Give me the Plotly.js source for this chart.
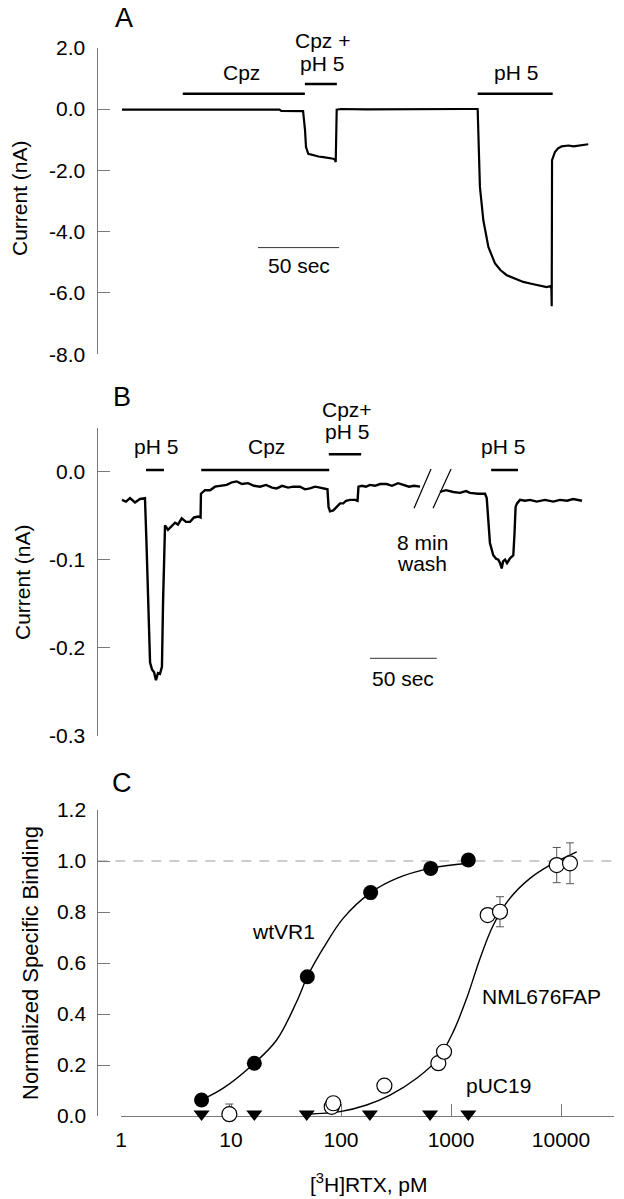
<!DOCTYPE html>
<html><head><meta charset="utf-8">
<script src="https://cdn.plot.ly/plotly-3.0.1.min.js"></script>
<style>html,body{margin:0;padding:0;background:#fff}</style>
</head><body><div id="chart" style="width:624px;height:1199px"></div>
<script>
// ---------- Panel A : whole-cell current trace (time in s, current in nA)
const timeA = [0, 10, 20, 30, 40, 50, 60, 70, 80, 90, 97, 98, 105, 111.5, 112.7, 113.3, 114.7, 117.8, 121, 124, 127, 130.1, 131.2, 131.6, 132.2, 135, 150, 170, 190, 210, 219.0, 219.6, 220.4, 222.5, 225.6, 229.7, 233, 236.9, 242, 247.1, 252, 257, 261.5, 263.5, 264.4, 264.6, 264.8, 266.6, 268.5, 270.7, 275, 278, 282, 284.5, 287.1];
const currentA = [-0.02, -0.02, -0.01, -0.02, -0.01, -0.01, -0.02, -0.01, -0.01, -0.02, -0.02, -0.06, -0.06, -0.07, -0.69, -1.24, -1.46, -1.51, -1.55, -1.57, -1.60, -1.62, -1.66, -1.73, -0.02, 0.0, -0.01, 0.0, -0.01, 0.0, 0.0, -1.4, -2.54, -3.63, -4.5, -5.04, -5.25, -5.42, -5.54, -5.64, -5.70, -5.75, -5.81, -5.78, -5.85, -6.43, -1.67, -1.40, -1.28, -1.22, -1.19, -1.22, -1.18, -1.16, -1.15];
const yTickValsA = [2, 0, -2, -4, -6, -8];
const yTickTextA = ["2.0", "0.0", "-2.0", "-4.0", "-6.0", "-8.0"];
const barLabelsA = ["Cpz", "Cpz + pH 5", "pH 5"];
const barStartA = [37.4, 112.6, 219.0];
const barEndA = [112.6, 132.3, 265.2];

// ---------- Panel B : whole-cell current trace (time in s, current in nA), null = 8 min wash break
const timeB = [0, 3, 6, 9.7, 13.5, 15.9, 17.2, 18.3, 19.5, 21.0, 22.5, 24.0, 25.4, 26.9, 28.4, 29.9, 30.7, 31.4, 32.2, 34.4, 37.2, 39.7, 41.9, 44.7, 47.9, 50.9, 53.9, 57.1, 58.8, 59.1, 62.1, 65.9, 69.6, 73.4, 78.4, 82.3, 85.9, 89.8, 94.3, 98.8, 103.3, 107.8, 112.3, 115.8, 119.8, 124.3, 128.2, 133.2, 137.0, 140.7, 144.5, 148.2, 151.9, 153.8, 154.6, 155.7, 158.2, 160.7, 163.2, 165.6, 167.7, 170.7, 174.4, 176.3, 177.0, 179.6, 182.6, 185.6, 189.4, 193.1, 198.1, 202.1, 206.6, 210.6, 214.8, 218.6, 223.1, 230, 238.0, 242.5, 248.0, 253.0, 257.5, 260.5, 266.5, 271.7, 273.0, 274.2, 275.4, 277.9, 280.0, 281.7, 283.0, 284.2, 285.2, 286.7, 288.2, 290.4, 292.9, 293.8, 294.6, 295.7, 297.9, 301.6, 305.4, 310.4, 316.6, 322.8, 327.8, 333.1, 337.6, 344.3];
const currentB = [-0.032, -0.034, -0.030, -0.035, -0.031, -0.030, -0.030, -0.08, -0.134, -0.217, -0.225, -0.228, -0.237, -0.229, -0.230, -0.222, -0.15, -0.089, -0.061, -0.066, -0.062, -0.058, -0.060, -0.053, -0.057, -0.057, -0.052, -0.051, -0.052, -0.025, -0.021, -0.021, -0.017, -0.016, -0.015, -0.012, -0.011, -0.014, -0.013, -0.016, -0.017, -0.015, -0.018, -0.019, -0.016, -0.018, -0.017, -0.017, -0.020, -0.019, -0.017, -0.018, -0.019, -0.020, -0.040, -0.045, -0.044, -0.040, -0.036, -0.036, -0.033, -0.032, -0.032, -0.033, -0.017, -0.016, -0.017, -0.015, -0.016, -0.014, -0.014, -0.016, -0.013, -0.015, -0.017, -0.016, -0.017, null, -0.023, -0.021, -0.023, -0.024, -0.022, -0.024, -0.025, -0.025, -0.030, -0.055, -0.081, -0.095, -0.099, -0.100, -0.104, -0.110, -0.102, -0.100, -0.104, -0.0985, -0.095, -0.070, -0.040, -0.036, -0.032, -0.033, -0.032, -0.034, -0.032, -0.034, -0.032, -0.033, -0.031, -0.033];
const yTickValsB = [0, -0.1, -0.2, -0.3];
const yTickTextB = ["0.0", "-0.1", "-0.2", "-0.3"];
const barLabelsB = ["pH 5", "Cpz", "Cpz+ pH 5", "pH 5"];
const barStartB = [17.96, 59.3, 154.8, 276.3];
const barEndB = [31.4, 155.1, 179.0, 296.4];

// ---------- Panel C : [3H]RTX binding (pM, normalized specific binding)
const concWt = [5.4, 16.3, 49.4, 186, 654, 1437];
const bindWt = [0.063, 0.207, 0.546, 0.876, 0.971, 1.004];
const concNml = [9.66, 82.3, 85.1, 248, 767, 864, 2155, 2788, 9140, 12070];
const bindNml = [0.007, 0.036, 0.050, 0.119, 0.207, 0.252, 0.788, 0.801, 0.984, 0.991];
const errNml = [0.04, 0, 0, 0, 0, 0, 0, 0.059, 0.069, 0.08];
const concPuc = [5.4, 16.3, 48.8, 183, 645, 1437];
const bindPuc = [0.008, 0.008, 0.008, 0.008, 0.008, 0.008];
const fitWtX = [5.4, 8.5, 16.3, 26.0, 39.5, 49.4, 69.0, 105, 186, 321, 645, 1437];
const fitWtY = [0.063, 0.109, 0.207, 0.298, 0.448, 0.546, 0.658, 0.776, 0.876, 0.932, 0.971, 0.991];
const fitNmlX = [48.8, 98, 171, 279, 488, 767, 1050, 1390, 1837, 2427, 3436, 5224, 7943, 13900];
const fitNmlY = [0.007, 0.017, 0.043, 0.082, 0.148, 0.226, 0.331, 0.462, 0.618, 0.749, 0.854, 0.932, 0.984, 1.036];
const xTickValsC = [1, 10, 100, 1000, 10000];
const xTickTextC = ["1", "10", "100", "1000", "10000"];
const yTickValsC = [0, 0.2, 0.4, 0.6, 0.8, 1.0, 1.2];
const yTickTextC = ["0.0", "0.2", "0.4", "0.6", "0.8", "1.0", "1.2"];

// ---------- layout helpers
const W = 624, H = 1199;
const FONT = "Liberation Sans, Arial, Helvetica, sans-serif";
const px = v => v / W;
const py = v => 1 - v / H;
const AX = "#7a7a7a";

function yAxisStyle(extra) {
  return Object.assign({
    showline: true, linecolor: AX, linewidth: 1,
    ticks: "inside", ticklen: 12, tickcolor: AX, tickwidth: 1,
    showgrid: false, zeroline: false, tickmode: "array",
    tickfont: {family: FONT, size: 21, color: "#000"},
    ticklabelstandoff: 7, fixedrange: true
  }, extra);
}

const traces = [
  {x: timeA, y: currentA, xaxis: "x", yaxis: "y", mode: "lines", type: "scatter",
   line: {color: "#000", width: 2.2}, name: "A", showlegend: false, hoverinfo: "skip"},
  {x: timeB, y: currentB, xaxis: "x2", yaxis: "y2", mode: "lines", type: "scatter", connectgaps: false,
   line: {color: "#000", width: 2.4}, name: "B", showlegend: false, hoverinfo: "skip"},
  {x: fitWtX, y: fitWtY, xaxis: "x3", yaxis: "y3", mode: "lines", type: "scatter",
   line: {color: "#000", width: 1.4, shape: "spline", smoothing: 1}, showlegend: false, hoverinfo: "skip", cliponaxis: false},
  {x: fitNmlX, y: fitNmlY, xaxis: "x3", yaxis: "y3", mode: "lines", type: "scatter",
   line: {color: "#000", width: 1.4, shape: "spline", smoothing: 1}, showlegend: false, hoverinfo: "skip", cliponaxis: false},
  {x: concPuc, y: bindPuc, xaxis: "x3", yaxis: "y3", mode: "markers", type: "scatter", name: "pUC19",
   marker: {symbol: "triangle-down", size: 14, color: "#000"}, showlegend: false, cliponaxis: false},
  {x: concNml, y: bindNml, xaxis: "x3", yaxis: "y3", mode: "markers", type: "scatter", name: "NML676FAP",
   error_y: {type: "data", array: errNml, visible: true, color: "#555", thickness: 1, width: 4},
   marker: {symbol: "circle", size: 15, color: "#fff", line: {width: 1.2, color: "#000"}}, showlegend: false, cliponaxis: false},
  {x: concWt, y: bindWt, xaxis: "x3", yaxis: "y3", mode: "markers", type: "scatter", name: "wtVR1",
   marker: {symbol: "circle", size: 15, color: "#000"}, showlegend: false, cliponaxis: false}
];

const shapes = [];
function bar(xr, yr, x0, x1, y, w, c) {
  shapes.push({type: "line", xref: xr, yref: yr, x0: x0, x1: x1, y0: y, y1: y, line: {color: c || "#000", width: w}});
}
// A protocol bars
bar("x", "y", barStartA[0], barEndA[0], 0.50, 2.5);
bar("x", "y", barStartA[1], barEndA[1], 0.815, 2.5);
bar("x", "y", barStartA[2], barEndA[2], 0.50, 2.5);
bar("x", "y", 83.7, 133.7, -4.52, 1, "#333"); // 50 sec scale
// B protocol bars
bar("x2", "y2", barStartB[0], barEndB[0], 0.0019, 2.5);
bar("x2", "y2", barStartB[1], barEndB[1], 0.0019, 2.5);
bar("x2", "y2", barStartB[2], barEndB[2], 0.0198, 2.5);
bar("x2", "y2", barStartB[3], barEndB[3], 0.0019, 2.5);
bar("x2", "y2", 185.6, 235.6, -0.2122, 1, "#333"); // 50 sec scale
// B break marks
shapes.push({type: "line", xref: "x2", yref: "y2", x0: 218.6, x1: 231.3, y0: -0.0416, y1: 0.0031, line: {color: "#000", width: 1.2}});
shapes.push({type: "line", xref: "x2", yref: "y2", x0: 232.8, x1: 246.3, y0: -0.0416, y1: 0.0031, line: {color: "#000", width: 1.2}});
// C dashed 1.0 line
shapes.push({type: "line", xref: "paper", yref: "y3", x0: px(97.3), x1: px(616), y0: 1, y1: 1, layer: "below", line: {color: "#9a9a9a", width: 1, dash: "10px,8px"}});

function ann(xr, yr, x, y, text, size, extra) {
  return Object.assign({xref: xr, yref: yr, x: x, y: y, text: text, showarrow: false,
    xanchor: "center", yanchor: "middle", font: {family: FONT, size: size || 21, color: "#000"}}, extra || {});
}
const annotations = [
  ann("paper", "paper", px(124), py(18), "A", 27),
  ann("paper", "paper", px(122), py(397), "B", 27),
  ann("paper", "paper", px(122), py(783), "C", 27),
  ann("paper", "paper", px(19), py(198), "Current (nA)", 21, {textangle: -90}),
  ann("paper", "paper", px(22), py(582), "Current (nA)", 21, {textangle: -90}),
  ann("paper", "paper", px(31), py(963), "Normalized Specific Binding", 22, {textangle: -90}),
  ann("paper", "paper", px(368), py(1183), "[<sup>3</sup>H]RTX, pM", 21),
  // A labels
  ann("x", "y", 73.4, 1.187, "Cpz"),
  ann("paper", "paper", px(322.4), py(40.8), "Cpz +"),
  ann("x", "y", 123.4, 1.50, "pH 5"),
  ann("x", "y", 242.6, 1.187, "pH 5"),
  ann("x", "y", 108.9, -5.098, "50 sec"),
  // B labels
  ann("x2", "y2", 25.4, 0.0292, "pH 5"),
  ann("x2", "y2", 107.8, 0.0292, "Cpz"),
  ann("paper", "paper", px(347.2), py(409.5), "Cpz+"),
  ann("x2", "y2", 168.6, 0.0460, "pH 5"),
  ann("x2", "y2", 285.3, 0.0292, "pH 5"),
  ann("x2", "y2", 224.9, -0.0807, "8 min"),
  ann("x2", "y2", 224.9, -0.1042, "wash"),
  ann("x2", "y2", 210.5, -0.235, "50 sec"),
  // C labels
  ann("x3", "y3", 1.475, 0.723, "wtVR1"),
  ann("x3", "y3", 3.825, 0.47, "NML676FAP"),
  ann("x3", "y3", 3.43, 0.119, "pUC19")
];

const layout = {
  width: W, height: H, margin: {l: 0, r: 0, t: 0, b: 0},
  paper_bgcolor: "#fff", plot_bgcolor: "rgba(0,0,0,0)",
  font: {family: FONT, size: 21, color: "#000"},
  showlegend: false,
  xaxis: {domain: [px(97.5), px(620)], range: [-15.09, 306.65], visible: false, fixedrange: true},
  yaxis: yAxisStyle({domain: [py(354.3), py(47.7)], range: [-8, 2], anchor: "x", tickvals: yTickValsA, ticktext: yTickTextA}),
  xaxis2: {domain: [px(97.5), px(620)], range: [-18.34, 372.75], visible: false, fixedrange: true, anchor: "y2"},
  yaxis2: yAxisStyle({domain: [py(735.5), py(428.3)], range: [-0.3, 0.0494], anchor: "x2", tickvals: yTickValsB, ticktext: yTickTextB}),
  xaxis3: {domain: [px(121), px(614)], type: "log", range: [0, 4.4818], anchor: "y3",
    showline: true, linecolor: AX, linewidth: 1, ticks: "inside", ticklen: 12, tickcolor: AX, tickwidth: 1,
    showgrid: false, zeroline: false, tickmode: "array", tickvals: xTickValsC, ticktext: xTickTextC,
    tickfont: {family: FONT, size: 21, color: "#000"}, ticklabelstandoff: 5, layer: "below traces", fixedrange: true},
  yaxis3: yAxisStyle({domain: [py(1116), py(810)], range: [0, 1.2], anchor: "free", position: px(97.3),
    tickvals: yTickValsC, ticktext: yTickTextC}),
  shapes: shapes,
  annotations: annotations
};

Plotly.newPlot("chart", traces, layout, {staticPlot: true, displayModeBar: false});
</script></body></html>
